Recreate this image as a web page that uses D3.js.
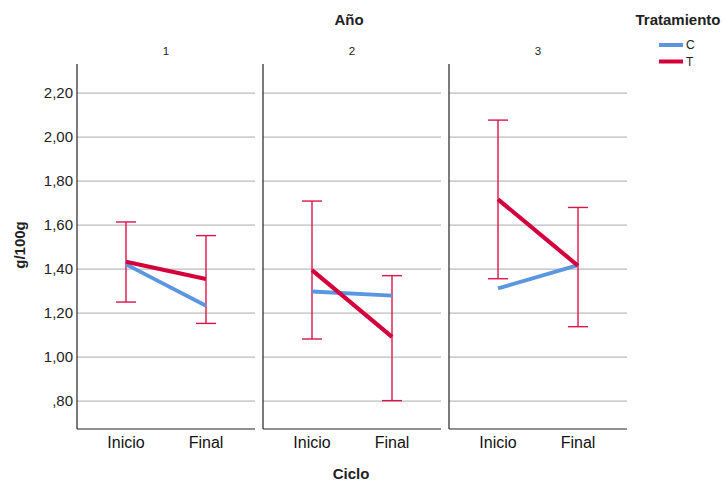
<!DOCTYPE html>
<html><head><meta charset="utf-8">
<script src="https://cdn.jsdelivr.net/npm/d3@7"></script>
<style>body{margin:0;background:#fff}svg{display:block;font-family:"Liberation Sans",Arial,sans-serif}</style>
</head><body><svg id="c" width="723" height="481"></svg>
<script>
const years = ["1","2","3"];
const cycles = ["Inicio","Final"];
const treatments = ["C","T"];
const yTicks = [0.8,1.0,1.2,1.4,1.6,1.8,2.0,2.2];
// means [year][cycle]
const meanC = [[1.421,1.233],[1.298,1.279],[1.312,1.418]];
const meanT = [[1.433,1.355],[1.395,1.092],[1.717,1.415]];
// error bar bounds for T
const lowT  = [[1.250,1.153],[1.082,0.802],[1.356,1.138]];
const highT = [[1.614,1.552],[1.709,1.370],[2.077,1.680]];

(function(){
const colors = {C:"#5b96e0", T:"#d4003c"};
const svg = d3.select("#c");
const plotTop = 64, plotBottom = 429;
const panelX = [77, 263, 449], panelW = 178;
const y = d3.scaleLinear().domain([0.673, 2.332]).range([plotBottom, plotTop]);
const fmt = v => (v < 1 ? "," + d3.format(".2f")(v).split(".")[1] : d3.format(".2f")(v).replace(".", ","));

svg.append("g").selectAll("text").data(yTicks).join("text")
  .attr("x", 73).attr("y", d => y(d)).attr("dy", "0.36em")
  .attr("text-anchor", "end").attr("font-size", 15).attr("fill", "#222").text(fmt);

years.forEach((yr, i) => {
  const x0 = panelX[i];
  const x = d3.scalePoint().domain(cycles).range([x0, x0 + panelW]).padding(0.6125);
  const g = svg.append("g");
  g.selectAll("line.grid").data(yTicks).join("line")
    .attr("x1", x0).attr("x2", x0 + panelW).attr("y1", d => y(d)).attr("y2", d => y(d))
    .attr("stroke", "#bbbbbb").attr("stroke-width", 1.2);
  g.append("line").attr("x1", x0).attr("x2", x0).attr("y1", plotTop).attr("y2", plotBottom).attr("stroke", "#222").attr("stroke-width", 1.2);
  g.append("line").attr("x1", x0).attr("x2", x0 + panelW).attr("y1", plotBottom).attr("y2", plotBottom).attr("stroke", "#222").attr("stroke-width", 1.2);
  g.selectAll("text.xl").data(cycles).join("text")
    .attr("x", d => x(d)).attr("y", 448).attr("text-anchor", "middle")
    .attr("font-size", 16).attr("fill", "#111").text(d => d);
  svg.append("text").attr("x", x0 + panelW / 2).attr("y", 55).attr("text-anchor", "middle")
    .attr("font-size", 11.5).attr("fill", "#222").text(yr);
  cycles.forEach((c, j) => {
    const cx = x(c), lo = y(lowT[i][j]), hi = y(highT[i][j]);
    const eb = g.append("g").attr("stroke", "#dc1448").attr("stroke-width", 1.4);
    eb.append("line").attr("x1", cx).attr("x2", cx).attr("y1", lo).attr("y2", hi);
    eb.append("line").attr("x1", cx - 10).attr("x2", cx + 10).attr("y1", lo).attr("y2", lo);
    eb.append("line").attr("x1", cx - 10).attr("x2", cx + 10).attr("y1", hi).attr("y2", hi);
  });
  const line = d3.line().x((d, j) => x(cycles[j])).y(d => y(d));
  g.append("path").attr("d", line(meanC[i])).attr("fill", "none").attr("stroke", colors.C).attr("stroke-width", 3.8);
  g.append("path").attr("d", line(meanT[i])).attr("fill", "none").attr("stroke", colors.T).attr("stroke-width", 4.2);
});

svg.append("text").attr("x", 349).attr("y", 25).attr("text-anchor", "middle").attr("font-size", 15).attr("font-weight", "bold").attr("fill", "#222").text("Año");
svg.append("text").attr("x", 351).attr("y", 479).attr("text-anchor", "middle").attr("font-size", 15).attr("font-weight", "bold").attr("fill", "#222").text("Ciclo");
svg.append("text").attr("transform", "translate(25,245) rotate(-90)").attr("text-anchor", "middle").attr("font-size", 15).attr("font-weight", "bold").attr("fill", "#222").text("g/100g");

svg.append("text").attr("x", 678).attr("y", 25).attr("text-anchor", "middle").attr("font-size", 15).attr("font-weight", "bold").attr("fill", "#222").text("Tratamiento");
treatments.forEach((t, k) => {
  const ly = 45 + k * 16.5;
  svg.append("line").attr("x1", 659).attr("x2", 683).attr("y1", ly).attr("y2", ly).attr("stroke", colors[t]).attr("stroke-width", 4);
  svg.append("text").attr("x", 686).attr("y", ly).attr("dy", "0.35em").attr("font-size", 12).attr("fill", "#222").text(t);
});
})();
</script></body></html>
